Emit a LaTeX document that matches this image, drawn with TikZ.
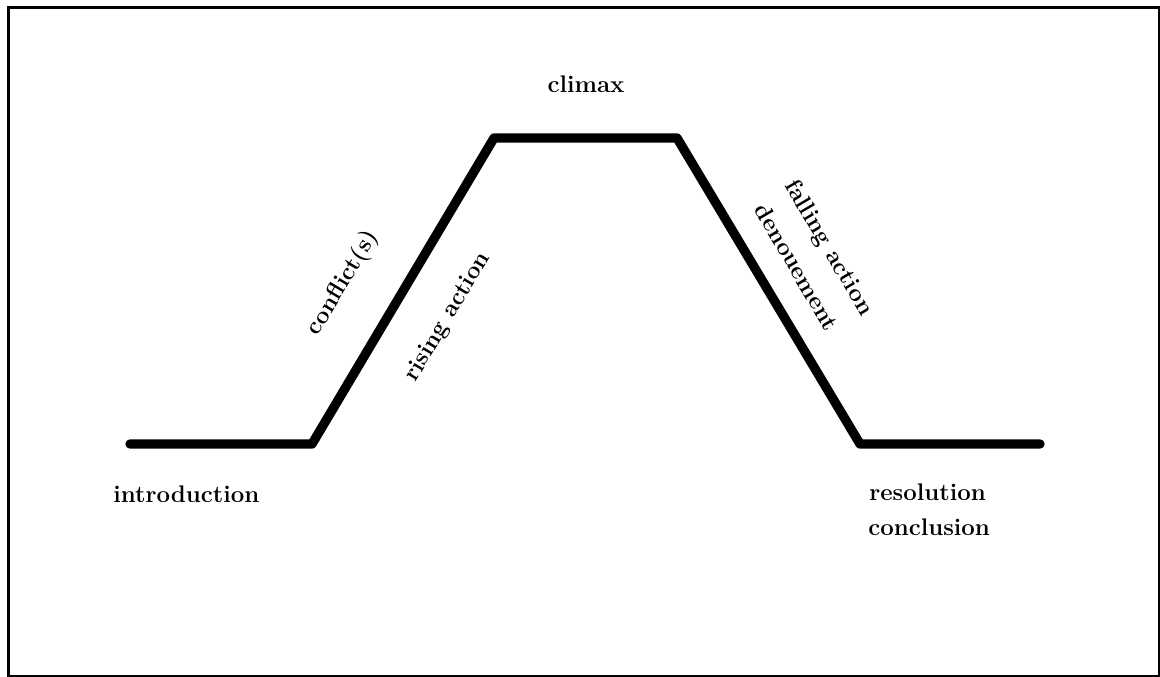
\documentclass[tikz,border=0pt]{standalone}
\tikzset{
    plotline/.style = {line width=7pt, draw=black, line cap=round, line join=round},
    frame/.style    = {line width=2.6pt, draw=black},
    stage/.style    = {font=\fontsize{18}{22}\selectfont\bfseries, inner sep=0pt, text=black}
}
\begin{document}
\begin{tikzpicture}[x=0.75pt, y=-0.75pt]
        \useasboundingbox (0,0) rectangle (1160,677);

        % Frame
        \draw[frame] (8.5,7.5) rectangle (1159.5,676.5);

        % Plot points
        \coordinate (intro)  at (130, 444);
        \coordinate (rise)   at (312, 444);
        \coordinate (peakl)  at (494, 138);
        \coordinate (peakr)  at (677, 138);
        \coordinate (fall)   at (860, 444);
        \coordinate (finish) at (1040, 444);

        % Plot line
        \draw[plotline] (intro) -- (rise) -- (peakl) -- (peakr) -- (fall) -- (finish);

        % Stage labels
        \node[stage, anchor=base] (climax) at (586, 93) {climax};
        \node[stage, anchor=base west] (introduction) at (113, 502) {introduction};
        \node[stage, rotate=59] (conflict) at (343, 283) {conflict(s)};
        \node[stage, rotate=59] (rising) at (448, 317) {rising action};
        \node[stage, rotate=-59.5] (falling) at (828, 248) {falling action};
        \node[stage, rotate=-59.5] (denouement) at (797, 267) {denouement};
        \node[stage, anchor=base west] (resolution) at (869, 500) {resolution};
        \node[stage, anchor=base west] (conclusion) at (868, 535) {conclusion};

    \end{tikzpicture}
\end{document}
